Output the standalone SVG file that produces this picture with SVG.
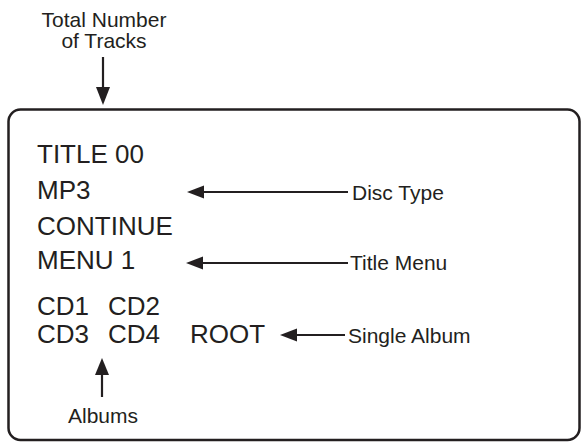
<svg xmlns="http://www.w3.org/2000/svg" width="582" height="442" viewBox="0 0 582 442">
<style>
.main{font-family:"Liberation Sans",Arial,sans-serif;font-size:26px;fill:#231f20}
.lbl{font-family:"Liberation Sans",Arial,sans-serif;font-size:21px;fill:#231f20}
.ln{stroke:#231f20;stroke-width:2.2;fill:none}
.hd{fill:#231f20}
</style>
<rect width="582" height="442" fill="#fff"/>
<g id="screen">
<rect x="8.5" y="109.5" width="571" height="330.5" rx="12" ry="12" fill="none" stroke="#231f20" stroke-width="2.5"/>
<text class="main" x="37" y="163">TITLE 00</text>
<text class="main" x="37" y="199">MP3</text>
<text class="main" x="37" y="235">CONTINUE</text>
<text class="main" x="37" y="269">MENU 1</text>
<text class="main" x="37" y="315">CD1</text>
<text class="main" x="108" y="315">CD2</text>
<text class="main" x="37" y="343">CD3</text>
<text class="main" x="108" y="343">CD4</text>
<text class="main" x="190" y="343">ROOT</text>
</g>
<g id="label-total">
<text class="lbl" x="104" y="27" text-anchor="middle">Total Number</text>
<text class="lbl" x="104" y="48" text-anchor="middle">of Tracks</text>
</g>
<g id="label-disc"><text class="lbl" x="352" y="200">Disc Type</text></g>
<g id="label-title"><text class="lbl" x="350" y="270">Title Menu</text></g>
<g id="label-single"><text class="lbl" x="348" y="343">Single Album</text></g>
<g id="label-albums"><text class="lbl" x="68" y="423">Albums</text></g>
<g id="connectors">
<line class="ln" x1="103" y1="57" x2="103" y2="90"/>
<polygon class="hd" points="96,87 110,87 103,105"/>
<line class="ln" x1="348" y1="192" x2="200" y2="192"/>
<polygon class="hd" points="187,192 204,185.5 204,198.5"/>
<line class="ln" x1="348" y1="263" x2="200" y2="263"/>
<polygon class="hd" points="186,263 203,256.5 203,269.5"/>
<line class="ln" x1="345" y1="335" x2="294" y2="335"/>
<polygon class="hd" points="280,335 297,328.5 297,341.5"/>
<line class="ln" x1="102" y1="397" x2="102" y2="372"/>
<polygon class="hd" points="102,358 95,375 109,375"/>
</g>
</svg>
